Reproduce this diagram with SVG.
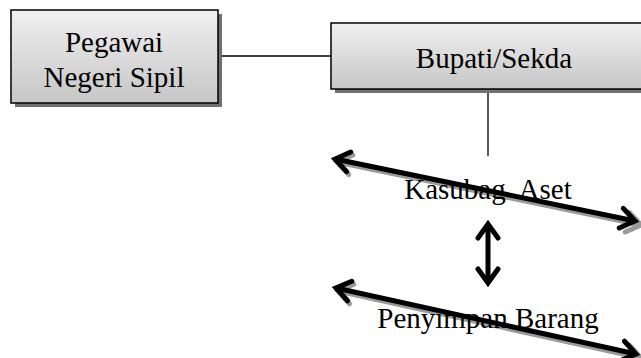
<svg xmlns="http://www.w3.org/2000/svg" width="641" height="358" viewBox="0 0 641 358">
<defs>
<linearGradient id="boxfill" x1="0" y1="0" x2="0" y2="1">
<stop offset="0" stop-color="#f0f0f0"/>
<stop offset="1" stop-color="#c6c6c6"/>
</linearGradient>
<marker id="chev" markerUnits="userSpaceOnUse" viewBox="-22 -16 28 32" refX="0" refY="0" markerWidth="28" markerHeight="32" orient="auto-start-reverse">
<path d="M-14,-10 L0,0 L-14,10" fill="none" stroke="#000" stroke-width="5" stroke-linecap="round"/>
</marker>
<marker id="chevs" markerUnits="userSpaceOnUse" viewBox="-22 -16 28 32" refX="0" refY="0" markerWidth="28" markerHeight="32" orient="auto-start-reverse">
<path d="M-14,-10 L0,0 L-14,10" fill="none" stroke="#9a9a9a" stroke-width="5" stroke-linecap="round"/>
</marker>
</defs>
<style>
.box{fill:url(#boxfill);stroke:#000;stroke-width:1.5}
.shadow{fill:#707070}
.t{font-family:"Liberation Serif","Times New Roman",serif;font-size:29px;fill:#000;text-anchor:middle}
.line{stroke:#000;stroke-width:1.3;fill:none}
.arr{stroke:#000;stroke-width:5;fill:none;marker-start:url(#chev);marker-end:url(#chev)}
.arrs{stroke:#9a9a9a;stroke-width:5;fill:none;marker-start:url(#chevs);marker-end:url(#chevs)}
</style>
<rect width="641" height="358" fill="#fff"/>
<g id="connectors">
<line class="line" x1="218" y1="56" x2="331" y2="56"/>
<line class="line" x1="488" y1="89" x2="488" y2="156"/>
<line class="arrs" x1="337" y1="162" x2="641" y2="225"/>
<line class="arr" x1="335" y1="159" x2="635" y2="221"/>
<line class="arr" x1="488" y1="224" x2="488" y2="283"/>
<line class="arrs" x1="338" y1="291" x2="641" y2="358"/>
<line class="arr" x1="336" y1="288" x2="636" y2="354"/>
</g>
<g id="pns">
<rect class="shadow" x="15" y="14" width="207" height="93"/>
<rect class="box" x="11" y="10" width="207" height="93"/>
<text class="t" x="114" y="52">Pegawai</text>
<text class="t" x="114" y="87">Negeri Sipil</text>
</g>
<g id="bupati">
<rect class="shadow" x="335" y="27" width="326" height="66"/>
<rect class="box" x="331" y="23" width="326" height="66"/>
<text class="t" x="494" y="68">Bupati/Sekda</text>
</g>
<g id="kasubag">
<text class="t" x="488" y="199" xml:space="preserve">Kasubag  Aset</text>
</g>
<g id="penyimpan">
<text class="t" x="488" y="328">Penyimpan Barang</text>
</g>
</svg>
